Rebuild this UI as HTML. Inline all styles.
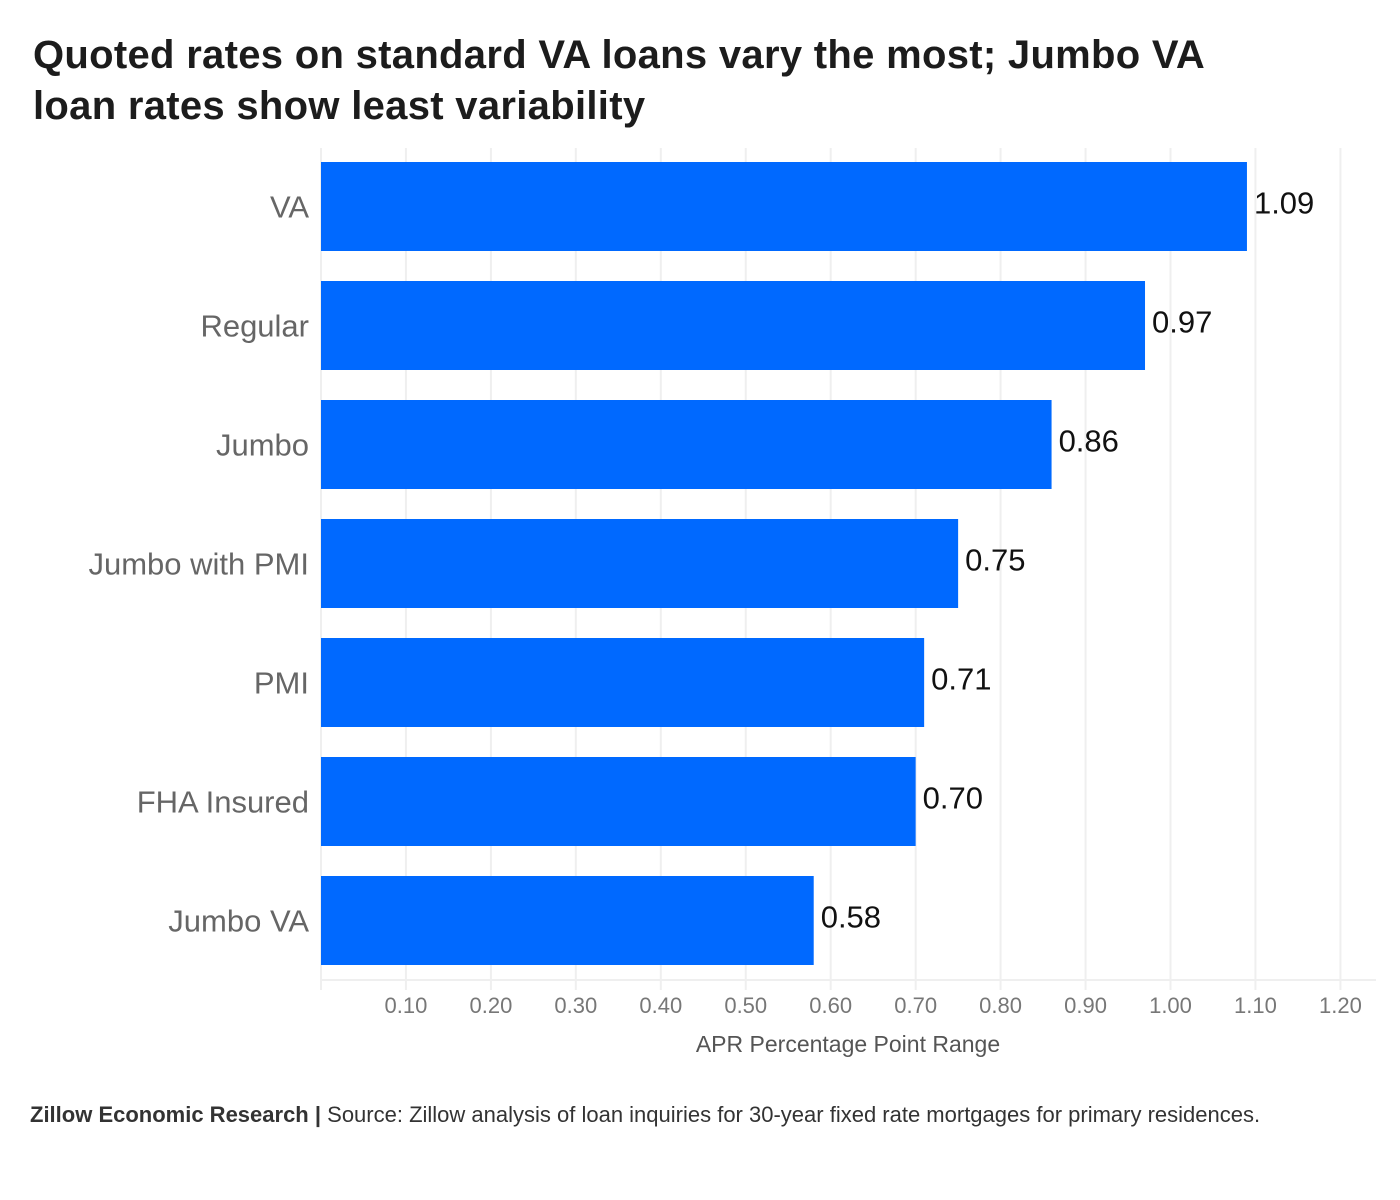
<!DOCTYPE html>
<html><head><meta charset="utf-8"><style>
body{margin:0;background:#fff;width:1400px;height:1200px;overflow:hidden;font-family:"Liberation Sans",sans-serif}
#title{position:absolute;left:33px;top:30px;font-size:40px;font-weight:bold;line-height:51px;color:#1c1c1c;margin:0;letter-spacing:0.3px}
#foot{position:absolute;left:30px;top:1101px;width:1330px;font-size:22px;line-height:28px;color:#333}
</style></head><body>
<h1 id="title">Quoted rates on standard VA loans vary the most; Jumbo VA<br>loan rates show least variability</h1>
<svg id="chart" width="1400" height="1200" style="position:absolute;left:0;top:0"></svg>
<div id="foot"><b>Zillow Economic Research |</b> Source: Zillow analysis of loan inquiries for 30-year fixed rate mortgages for primary residences.</div>
<script>
const categories=["VA","Regular","Jumbo","Jumbo with PMI","PMI","FHA Insured","Jumbo VA"];
const values=[1.09,0.97,0.86,0.75,0.71,0.70,0.58];
const valueLabels=["1.09","0.97","0.86","0.75","0.71","0.70","0.58"];
const ticks=[0.1,0.2,0.3,0.4,0.5,0.6,0.7,0.8,0.9,1.0,1.1,1.2];
const tickLabels=["0.10","0.20","0.30","0.40","0.50","0.60","0.70","0.80","0.90","1.00","1.10","1.20"];
const svg=document.getElementById('chart');
const NS='http://www.w3.org/2000/svg';
const x0=321,pxPer=849.5;
const x=v=>x0+v*pxPer;
const y=i=>162+i*119;
const bh=89;
function mk(t,a){const e=document.createElementNS(NS,t);for(const k in a)e.setAttribute(k,a[k]);svg.appendChild(e);return e;}
// grid
for(let i=0;i<=ticks.length;i++){
  const v=i==0?0:ticks[i-1];
  const g=mk('line',{x1:x(v),x2:x(v),y1:148,y2:990,stroke:'#efefef','stroke-width':2});
  
  
}
const ax=mk('line',{x1:320,x2:1376,y1:980,y2:980,stroke:'#efefef','stroke-width':2});


ticks.forEach((v,i)=>{
  const t=mk('text',{x:x(v),y:1013,'text-anchor':'middle','font-size':22,fill:'#777'});
  t.textContent=tickLabels[i];
  
  
});
categories.forEach((c,i)=>{
  const r=mk('rect',{x:x0,y:y(i),width:x(values[i])-x0,height:bh,fill:'#0069ff'});
  
  
  const l=mk('text',{x:309,y:y(i)+bh/2+11,'text-anchor':'end','font-size':31,fill:'#666'});
  l.textContent=c;
  
  
  const v=mk('text',{x:x(values[i])+7,y:y(i)+bh/2+7,'font-size':31,fill:'#111'});
  v.textContent=valueLabels[i];
  
  
});
const xt=mk('text',{x:848,y:1052,'text-anchor':'middle','font-size':23,fill:'#555'});
xt.textContent='APR Percentage Point Range';


</script>
</body></html>
